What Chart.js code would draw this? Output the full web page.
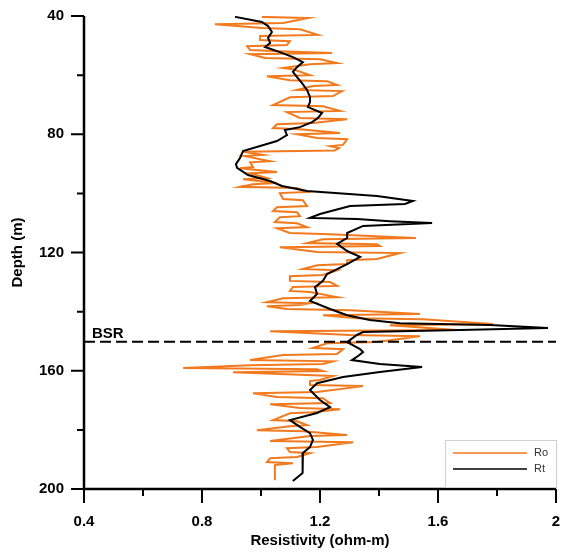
<!DOCTYPE html>
<html lang="en">
<head>
<meta charset="UTF-8">
<title>Resistivity log</title>
<script src="https://cdn.jsdelivr.net/npm/chart.js"></script>
<style>
  html, body { margin: 0; padding: 0; background: #fff; }
  canvas { display: block; }
</style>
</head>
<body>
<canvas id="logChart" width="563" height="553"></canvas>
<script>
// tick labels
const xTicks = [0.4, 0.8, 1.2, 1.6, 2];
const xMinorTicks = [0.6, 1.0, 1.4, 1.8];
const yTicks = [40, 80, 120, 160, 200];
const yMinorTicks = [60, 100, 140, 180];

const seriesNames = ["Ro", "Rt"];

// Rt (black) - depth (m) and resistivity (ohm-m)
const rtDepth = [40.3, 42.0, 43.4, 45.4, 47.4, 49.1, 50.5, 52.2, 53.9, 55.6,
  57.3, 58.9, 61.0, 62.7, 65.0, 67.4, 69.1, 70.8, 72.8, 74.5,
  75.9, 77.6, 78.6, 80.3, 82.3, 84.0, 85.7, 88.0, 90.1, 91.4,
  93.8, 95.8, 97.5, 99.2, 100.9, 102.6, 103.6, 104.3, 105.6, 107.0,
  108.3, 108.7, 109.4, 110.0, 111.0, 113.4, 115.1, 117.1, 119.5, 121.5,
  123.9, 125.6, 127.3, 129.6, 131.7, 134.0, 136.4, 139.1, 141.2, 142.8,
  143.9, 144.5, 145.5, 146.2, 146.9, 147.9, 150.3, 152.7, 153.7, 155.0,
  156.4, 157.7, 158.7, 160.4, 162.1, 164.2, 166.5, 169.9, 172.3, 174.3,
  176.7, 179.0, 181.1, 183.4, 185.8, 187.8, 190.2, 192.6, 194.6, 197.3];
const rtValue = [0.912, 1.003, 1.024, 1.037, 1.024, 1.031, 1.014, 1.064, 1.108, 1.142,
  1.122, 1.108, 1.125, 1.139, 1.156, 1.166, 1.166, 1.159, 1.207, 1.193,
  1.173, 1.132, 1.081, 1.088, 1.054, 0.997, 0.939, 0.929, 0.915, 0.919,
  0.956, 1.031, 1.071, 1.156, 1.393, 1.515, 1.488, 1.302, 1.251, 1.200,
  1.166, 1.325, 1.437, 1.580, 1.346, 1.292, 1.292, 1.258, 1.292, 1.336,
  1.292, 1.258, 1.224, 1.210, 1.183, 1.190, 1.166, 1.234, 1.292, 1.369,
  1.471, 1.776, 1.973, 1.675, 1.346, 1.325, 1.292, 1.336, 1.346, 1.329,
  1.308, 1.403, 1.546, 1.403, 1.278, 1.190, 1.166, 1.200, 1.234, 1.190,
  1.098, 1.132, 1.166, 1.176, 1.166, 1.142, 1.142, 1.139, 1.142, 1.108];

// Ro (orange) - depth (m) and resistivity (ohm-m)
const roDepth = [40.3, 40.7, 42.4, 42.8, 44.1, 44.5, 46.4, 46.8, 48.1, 48.5,
  49.8, 50.2, 51.5, 51.9, 52.5, 52.9, 54.2, 54.6, 55.9, 56.3,
  57.6, 58.0, 60.0, 60.4, 61.7, 62.1, 63.3, 63.7, 65.0, 65.4,
  67.1, 67.5, 70.1, 70.5, 72.1, 72.5, 74.5, 74.9, 76.2, 76.6,
  77.9, 78.3, 79.6, 80.0, 81.3, 81.7, 83.6, 84.0, 84.7, 85.5, 85.9,
  87.0, 87.4, 89.1, 89.5, 91.1, 91.5, 92.8, 93.2, 94.8, 95.2,
  96.5, 96.9, 97.8, 98.2, 99.5, 99.9, 101.9, 102.3, 104.3, 104.7,
  106.0, 106.4, 107.7, 108.1, 109.7, 110.1, 111.4, 111.8, 113.4, 113.8,
  115.1, 115.5, 116.8, 117.2, 117.8, 118.2, 119.8, 120.2, 122.2, 122.6,
  123.9, 124.3, 125.6, 126.0, 127.6, 128.0, 129.6, 130.0, 131.3, 131.7,
  133.0, 133.4, 135.1, 135.5, 136.8, 137.2, 137.8, 138.2, 139.1, 139.5,
  140.8, 141.2, 142.2, 142.6, 144.2, 144.6, 146.2, 146.6, 147.9, 148.3,
  150.3, 150.7, 152.3, 152.7, 154.3, 154.7, 156.4, 156.8, 157.7, 158.1,
  159.1, 159.5, 160.1, 160.5, 161.4, 161.8, 163.1, 163.5, 164.8, 165.2,
  167.2, 167.6, 168.9, 169.3, 170.9, 171.3, 172.6, 173.0, 174.0, 174.4,
  176.7, 177.1, 178.4, 178.8, 180.1, 180.5, 181.7, 182.1, 183.8, 184.2,
  185.8, 186.2, 187.5, 187.9, 189.2, 189.6, 190.9, 191.3, 191.9, 197.0];
const roValue = [1.003, 1.160, 1.075, 0.844, 1.003, 1.132, 1.193, 0.997, 0.997, 1.098,
  1.088, 0.953, 0.963, 1.064, 1.241, 0.963, 1.014, 1.200, 1.258, 1.166,
  1.075, 1.108, 1.166, 1.020, 1.098, 1.224, 1.258, 1.176, 1.122, 1.275,
  1.244, 1.098, 1.041, 1.210, 1.268, 1.088, 1.132, 1.292, 1.176, 1.054,
  1.041, 1.132, 1.268, 1.122, 1.190, 1.292, 1.278, 1.234, 1.264, 1.250, 0.939,
  1.007, 0.945, 1.031, 0.963, 0.973, 0.929, 1.054, 0.963, 1.020, 0.939,
  1.054, 0.973, 0.929, 1.122, 1.156, 1.064, 1.075, 1.142, 1.156, 1.054,
  1.041, 1.122, 1.132, 1.064, 1.047, 1.122, 1.156, 1.054, 1.098, 1.234,
  1.525, 1.210, 1.156, 1.393, 1.403, 1.064, 1.190, 1.471, 1.393, 1.292,
  1.292, 1.190, 1.142, 1.258, 1.210, 1.098, 1.098, 1.234, 1.258, 1.108,
  1.098, 1.166, 1.258, 1.075, 1.020, 1.166, 1.132, 1.020, 1.088, 1.302,
  1.539, 1.210, 1.325, 1.549, 1.786, 1.437, 1.664, 1.031, 1.302, 1.539,
  1.393, 1.224, 1.176, 1.278, 1.258, 1.075, 0.963, 1.244, 1.210, 0.963,
  0.736, 1.190, 1.210, 0.905, 1.156, 1.244, 1.200, 1.166, 1.166, 1.346,
  1.190, 0.973, 1.054, 1.210, 1.234, 1.031, 1.132, 1.268, 1.176, 1.098,
  1.041, 1.122, 1.156, 1.098, 0.986, 1.142, 1.292, 1.166, 1.031, 1.312,
  1.190, 1.088, 1.098, 1.166, 1.122, 1.031, 1.020, 1.108, 1.047, 1.047];

// BSR depth (m)
const bsrDepth = 150.2;
const bsrLabel = "BSR";

const ORANGE = "#F27A1E";
const BOLD = "bold 15px 'Liberation Sans', Arial, sans-serif";

function toPoints(depths, values) {
  return depths.map((d, i) => ({ x: values[i], y: d }));
}

// Draws tick marks, axis lines, BSR label and the legend box
const decorPlugin = {
  id: "decor",
  afterDraw(chart) {
    const { ctx, chartArea: a, scales: { x, y } } = chart;
    ctx.save();
    ctx.strokeStyle = "#000";
    ctx.lineWidth = 2;
    ctx.beginPath();
    yTicks.forEach(v => { const p = y.getPixelForValue(v); ctx.moveTo(a.left - 13, p); ctx.lineTo(a.left, p); });
    yMinorTicks.forEach(v => { const p = y.getPixelForValue(v); ctx.moveTo(a.left - 7, p); ctx.lineTo(a.left, p); });
    xTicks.forEach(v => { const p = x.getPixelForValue(v); ctx.moveTo(p, a.bottom); ctx.lineTo(p, a.bottom + 14); });
    xMinorTicks.forEach(v => { const p = x.getPixelForValue(v); ctx.moveTo(p, a.bottom); ctx.lineTo(p, a.bottom + 7); });
    ctx.stroke();

    // axes
    ctx.lineWidth = 2.5;
    ctx.beginPath();
    ctx.moveTo(a.left, a.top);
    ctx.lineTo(a.left, a.bottom);
    ctx.lineTo(a.right, a.bottom);
    ctx.stroke();

    // BSR label
    ctx.fillStyle = "#000";
    ctx.font = BOLD;
    ctx.textBaseline = "alphabetic";
    ctx.textAlign = "left";
    ctx.fillText(bsrLabel, x.getPixelForValue(0.427), y.getPixelForValue(bsrDepth) - 4);

    // legend
    const bx = 445, by = 440;
    ctx.lineWidth = 1;
    ctx.strokeStyle = "#cfcfcf";
    ctx.strokeRect(bx + 0.5, by + 0.5, a.right - bx, a.bottom - by - 2);
    const colors = [ORANGE, "#000"];
    ctx.font = "11px 'Liberation Sans', Arial, sans-serif";
    ctx.textBaseline = "middle";
    seriesNames.forEach((name, i) => {
      const ly = by + 13 + i * 16;
      ctx.strokeStyle = colors[i];
      ctx.lineWidth = 1.5;
      ctx.beginPath();
      ctx.moveTo(bx + 8, ly);
      ctx.lineTo(bx + 82, ly);
      ctx.stroke();
      ctx.fillStyle = "#333";
      ctx.fillText(name, bx + 89, ly);
    });
    ctx.restore();
  }
};

const ctx = document.getElementById("logChart").getContext("2d");
new Chart(ctx, {
  type: "scatter",
  data: {
    datasets: [
      {
        label: bsrLabel,
        data: [{ x: xTicks[0], y: bsrDepth }, { x: xTicks[xTicks.length - 1], y: bsrDepth }],
        showLine: true,
        borderColor: "#000",
        borderWidth: 2,
        borderDash: [11, 5],
        pointRadius: 0,
        order: 0
      },
      {
        label: seriesNames[1],
        data: toPoints(rtDepth, rtValue),
        showLine: true,
        borderColor: "#000",
        borderWidth: 2,
        pointRadius: 0,
        order: 1
      },
      {
        label: seriesNames[0],
        data: toPoints(roDepth, roValue),
        showLine: true,
        borderColor: ORANGE,
        borderWidth: 2,
        pointRadius: 0,
        order: 2
      }
    ]
  },
  options: {
    responsive: false,
    animation: false,
    devicePixelRatio: 1,
    layout: { padding: { top: 16, right: 0, left: 0, bottom: 0 } },
    plugins: {
      legend: { display: false },
      tooltip: { enabled: false }
    },
    scales: {
      x: {
        type: "linear",
        min: 0.4,
        max: 2,
        afterBuildTicks: scale => { scale.ticks = xTicks.map(v => ({ value: v })); },
        afterFit: scale => {
          scale.height = 64;
          scale.paddingLeft = 0;
          scale.paddingRight = 7;
        },
        grid: { display: false, drawTicks: true, tickLength: 14 },
        border: { display: false },
        ticks: {
          color: "#000",
          font: { family: "'Liberation Sans', Arial", size: 15, weight: "bold" },
          padding: 10,
          maxRotation: 0,
          callback: v => String(v)
        },
        title: {
          display: true,
          text: "Resistivity (ohm-m)",
          color: "#000",
          font: { family: "'Liberation Sans', Arial", size: 15, weight: "bold" },
          padding: { top: 0, bottom: 3 }
        }
      },
      y: {
        type: "linear",
        reverse: true,
        min: 40,
        max: 200,
        afterBuildTicks: scale => { scale.ticks = yTicks.map(v => ({ value: v })); },
        afterFit: scale => { scale.width = 84; },
        grid: { display: false, drawTicks: true, tickLength: 13 },
        border: { display: false },
        ticks: { color: "#000", font: { family: "'Liberation Sans', Arial", size: 15, weight: "bold" }, padding: 7 },
        title: {
          display: true,
          text: "Depth (m)",
          color: "#000",
          font: { family: "'Liberation Sans', Arial", size: 15, weight: "bold" },
          padding: { top: 9, bottom: 0 }
        }
      }
    }
  },
  plugins: [decorPlugin]
});
</script>
</body>
</html>
